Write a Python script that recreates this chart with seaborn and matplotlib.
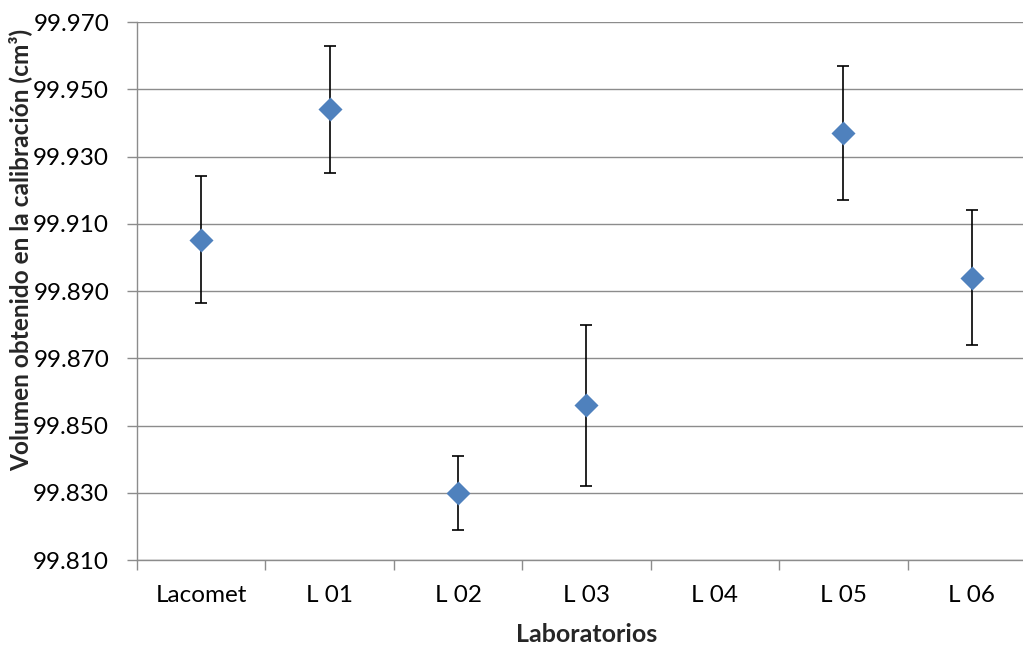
import numpy as np
import pandas as pd
import matplotlib
matplotlib.use("Agg")
import matplotlib.pyplot as plt
import seaborn as sns

categories = ["Lacomet", "L 01", "L 02", "L 03", "L 04", "L 05", "L 06"]
values = [99.9053, 99.9440, 99.8300, 99.8560, np.nan, 99.9370, 99.8940]
errors = [0.0190, 0.0190, 0.0110, 0.0240, np.nan, 0.0200, 0.0200]
ytick_values = [99.810, 99.830, 99.850, 99.870, 99.890, 99.910, 99.930, 99.950, 99.970]

sns.set_theme(style="white")
plt.rcParams["font.family"] = ["Lato", "DejaVu Sans"]

df = pd.DataFrame({"lab": categories, "vol": values, "err": errors, "pos": np.arange(len(categories))})

fig = plt.figure(figsize=(10.23, 6.46), dpi=100)
ax = fig.add_axes([0.1339, 0.1331, 0.8788, 0.8328])

grid_c = "#8c8c8c"
for yv in ytick_values:
    ax.axhline(yv, color=grid_c, lw=1.0, zorder=0)

d = df.dropna()
ax.errorbar(d["pos"], d["vol"], yerr=d["err"], fmt="none", ecolor="black",
            elinewidth=1.2, capsize=4.5, capthick=1.2, zorder=2)
sns.scatterplot(data=d, x="pos", y="vol", marker="D", s=150, color="#4F81BD",
                edgecolor="#4F81BD", linewidth=0, zorder=3, ax=ax, legend=False)

ax.set_xlim(-0.5, len(categories) - 0.5)
ax.set_ylim(99.810, 99.970)
ax.set_yticks(ytick_values)
ax.set_yticklabels([f"{v:.3f}" for v in ytick_values])
ax.set_xticks(np.arange(len(categories)))
ax.set_xticklabels(categories)
ax.set_xticks(np.arange(-0.5, len(categories)), minor=True)
ax.tick_params(axis="x", which="major", length=0, pad=18, labelsize=17.5, colors="black")
ax.tick_params(axis="x", which="minor", length=7, width=1.0, color=grid_c, direction="out", bottom=True)
ax.tick_params(axis="y", which="major", length=7, width=1.0, color=grid_c, direction="out", left=True,
               labelsize=17.5, labelcolor="black", pad=13)

for s in ["top", "right"]:
    ax.spines[s].set_visible(False)
for s in ["left", "bottom"]:
    ax.spines[s].set_color(grid_c)
    ax.spines[s].set_linewidth(1.0)

ax.set_xlabel("Laboratorios", fontsize=18, fontweight="bold", labelpad=12)
ax.set_ylabel("Volumen obtenido en la calibración (cm³)", fontsize=17.6, fontweight="bold")
ax.yaxis.set_label_coords(-0.117, 0.576)

fig.savefig("out.png", dpi=100)
